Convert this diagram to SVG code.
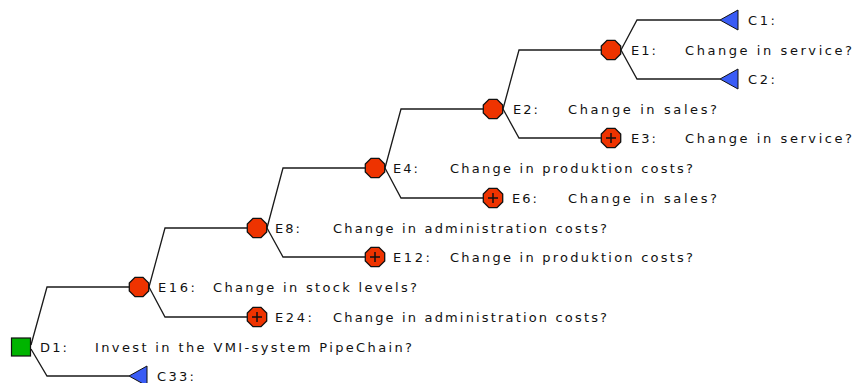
<svg xmlns="http://www.w3.org/2000/svg" xmlns:xlink="http://www.w3.org/1999/xlink" width="853" height="383" viewBox="0 0 853 383">
<style>
.bg{fill:#ffffff}
.conn{fill:none;stroke:#1a1a1a;stroke-width:1.3}
.chance{fill:#ee3300;stroke:#111;stroke-width:1.3}
.plus{stroke:#111;stroke-width:1.5}
.dec{fill:#00b400;stroke:#111;stroke-width:1.2}
.term{fill:#3a5cf5;stroke:#111;stroke-width:1}
text{font-family:"DejaVu Sans","Liberation Sans",Arial,sans-serif;font-size:13px;fill:#111}
</style>
<defs>
<polygon id="oct" points="9.7,4 4,9.7 -4,9.7 -9.7,4 -9.7,-4 -4,-9.7 4,-9.7 9.7,-4"/>
<polygon id="tri" points="-9,0 9,-10 9,10"/>
<path id="pl" d="M-5,0H5M0,-5V5"/>
</defs>
<rect class="bg" x="0" y="0" width="853" height="383"/>
<g id="connectors">
<path class="conn" d="M31,345 L47,287 H129"/>
<path class="conn" d="M31,349 L47,376 H129"/>
<path class="conn" d="M149,287 L165,228 H247"/>
<path class="conn" d="M149,287 L165,317 H247"/>
<path class="conn" d="M267,228 L283,168 H365"/>
<path class="conn" d="M267,228 L283,257 H365"/>
<path class="conn" d="M385,168 L401,109 H483"/>
<path class="conn" d="M385,168 L401,198 H483"/>
<path class="conn" d="M503,109 L519,50 H601"/>
<path class="conn" d="M503,109 L519,138 H601"/>
<path class="conn" d="M621,50 L637,20 H720"/>
<path class="conn" d="M621,50 L637,79 H720"/>
</g>
<g id="D1">
<rect class="dec" x="11.5" y="338" width="19" height="18"/>
<text x="40" y="352" textLength="27" lengthAdjust="spacing">D1:</text>
<text x="95" y="352" textLength="317" lengthAdjust="spacing">Invest in the VMI-system PipeChain?</text>
</g>
<g id="C33">
<use xlink:href="#tri" class="term" x="138" y="376"/>
<text x="157" y="381" textLength="37" lengthAdjust="spacing">C33:</text>
</g>
<g id="E16">
<use xlink:href="#oct" class="chance" x="139" y="287"/>
<text x="158" y="292" textLength="37" lengthAdjust="spacing">E16:</text>
<text x="213" y="292" textLength="204" lengthAdjust="spacing">Change in stock levels?</text>
</g>
<g id="E24">
<use xlink:href="#oct" class="chance" x="257" y="317"/>
<use xlink:href="#pl" class="plus" x="257" y="317"/>
<text x="275" y="322" textLength="37" lengthAdjust="spacing">E24:</text>
<text x="333" y="322" textLength="274" lengthAdjust="spacing">Change in administration costs?</text>
</g>
<g id="E8">
<use xlink:href="#oct" class="chance" x="257" y="228"/>
<text x="275" y="233" textLength="25" lengthAdjust="spacing">E8:</text>
<text x="333" y="233" textLength="274" lengthAdjust="spacing">Change in administration costs?</text>
</g>
<g id="E12">
<use xlink:href="#oct" class="chance" x="375" y="257"/>
<use xlink:href="#pl" class="plus" x="375" y="257"/>
<text x="393" y="262" textLength="37" lengthAdjust="spacing">E12:</text>
<text x="450" y="262" textLength="243" lengthAdjust="spacing">Change in produktion costs?</text>
</g>
<g id="E4">
<use xlink:href="#oct" class="chance" x="375" y="168"/>
<text x="393" y="173" textLength="25" lengthAdjust="spacing">E4:</text>
<text x="450" y="173" textLength="243" lengthAdjust="spacing">Change in produktion costs?</text>
</g>
<g id="E6">
<use xlink:href="#oct" class="chance" x="493" y="198"/>
<use xlink:href="#pl" class="plus" x="493" y="198"/>
<text x="512" y="203" textLength="25" lengthAdjust="spacing">E6:</text>
<text x="568" y="203" textLength="149" lengthAdjust="spacing">Change in sales?</text>
</g>
<g id="E2">
<use xlink:href="#oct" class="chance" x="493" y="109"/>
<text x="513" y="114" textLength="25" lengthAdjust="spacing">E2:</text>
<text x="568" y="114" textLength="149" lengthAdjust="spacing">Change in sales?</text>
</g>
<g id="E3">
<use xlink:href="#oct" class="chance" x="611" y="138"/>
<use xlink:href="#pl" class="plus" x="611" y="138"/>
<text x="631" y="143" textLength="25" lengthAdjust="spacing">E3:</text>
<text x="685" y="143" textLength="167" lengthAdjust="spacing">Change in service?</text>
</g>
<g id="E1">
<use xlink:href="#oct" class="chance" x="611" y="50"/>
<text x="631" y="55" textLength="25" lengthAdjust="spacing">E1:</text>
<text x="685" y="55" textLength="167" lengthAdjust="spacing">Change in service?</text>
</g>
<g id="C1">
<use xlink:href="#tri" class="term" x="729" y="20"/>
<text x="748" y="25" textLength="27" lengthAdjust="spacing">C1:</text>
</g>
<g id="C2">
<use xlink:href="#tri" class="term" x="729" y="79"/>
<text x="748" y="84" textLength="27" lengthAdjust="spacing">C2:</text>
</g>
</svg>
